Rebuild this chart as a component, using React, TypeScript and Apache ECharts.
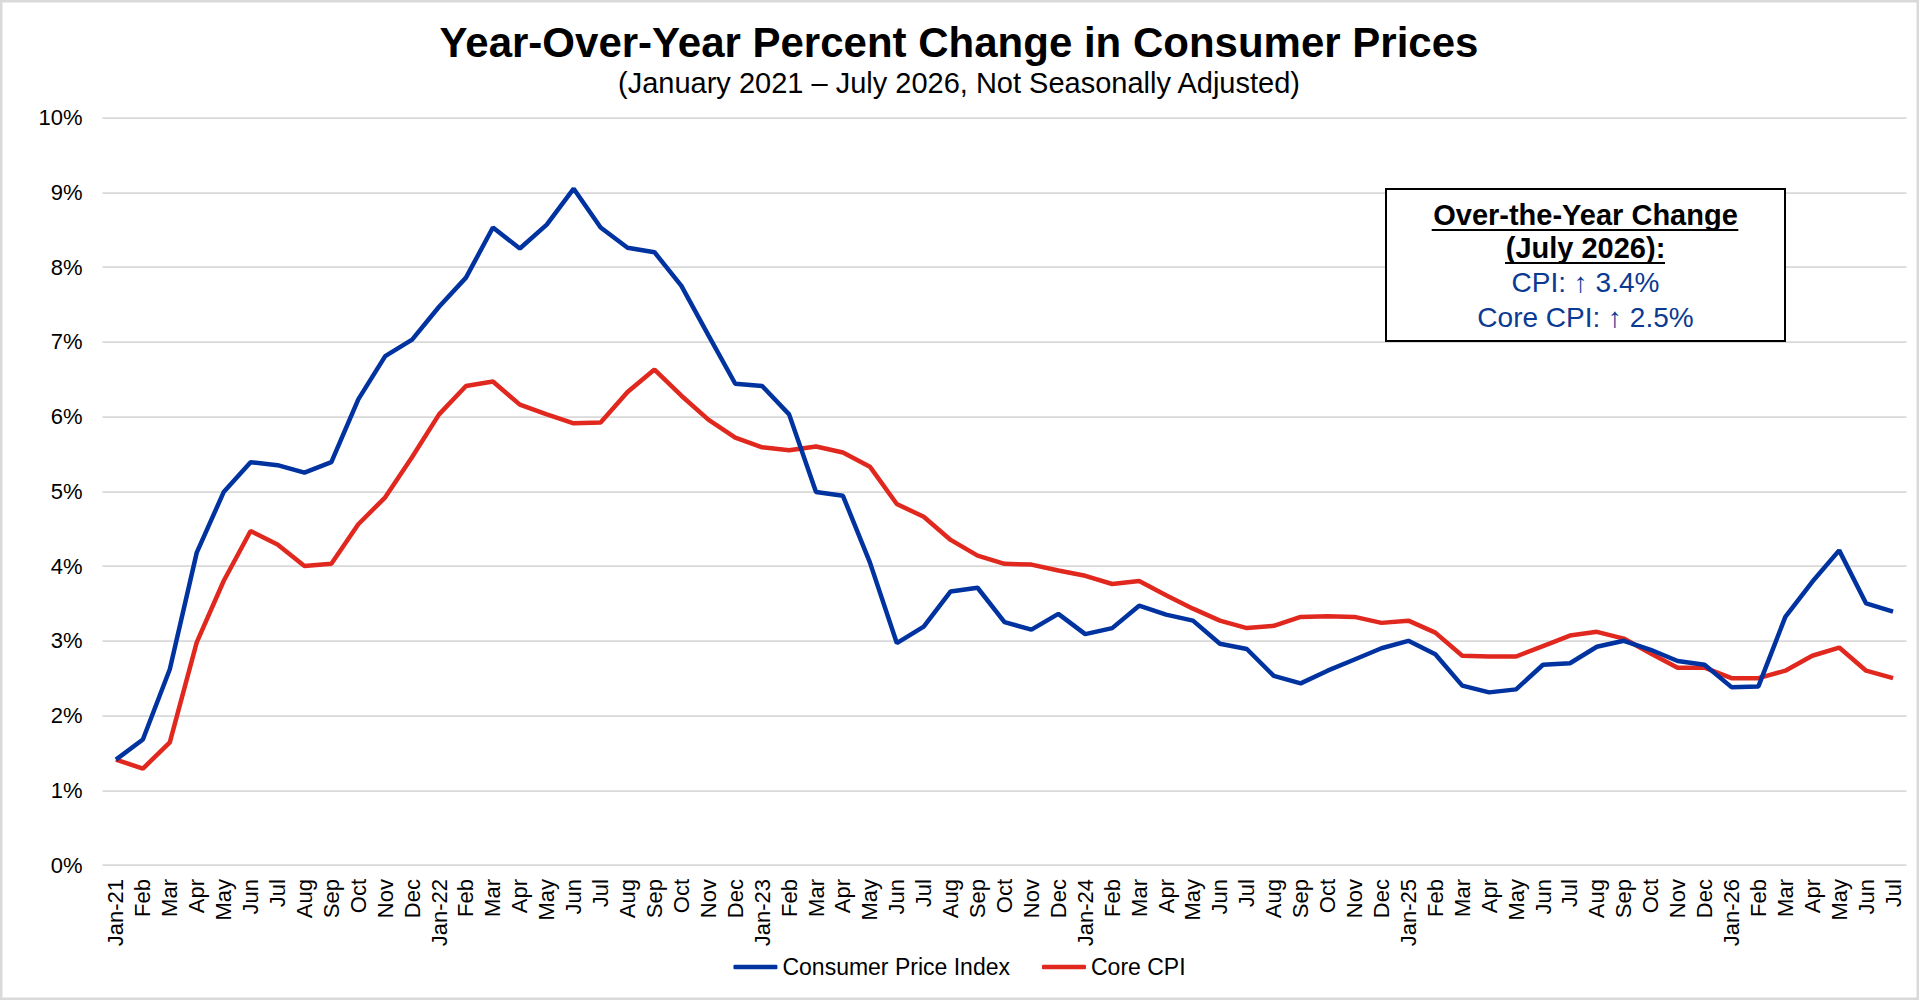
import React, { useEffect, useRef } from "react";
import * as echarts from "echarts";

const categories = [
  "Jan-21", "Feb", "Mar", "Apr", "May", "Jun", "Jul", "Aug", "Sep", "Oct", "Nov", "Dec",
  "Jan-22", "Feb", "Mar", "Apr", "May", "Jun", "Jul", "Aug", "Sep", "Oct", "Nov", "Dec",
  "Jan-23", "Feb", "Mar", "Apr", "May", "Jun", "Jul", "Aug", "Sep", "Oct", "Nov", "Dec",
  "Jan-24", "Feb", "Mar", "Apr", "May", "Jun", "Jul", "Aug", "Sep", "Oct", "Nov", "Dec",
  "Jan-25", "Feb", "Mar", "Apr", "May", "Jun", "Jul", "Aug", "Sep", "Oct", "Nov", "Dec",
  "Jan-26", "Feb", "Mar", "Apr", "May", "Jun", "Jul",
];

const cpiValues = [
  1.41, 1.68, 2.62, 4.18, 4.99, 5.39, 5.35, 5.25, 5.39, 6.23, 6.81, 7.03,
  7.47, 7.86, 8.53, 8.25, 8.57, 9.05, 8.53, 8.26, 8.2, 7.75, 7.09, 6.44,
  6.41, 6.03, 4.99, 4.94, 4.05, 2.97, 3.19, 3.66, 3.71, 3.25, 3.15, 3.36,
  3.09, 3.17, 3.47, 3.35, 3.27, 2.96, 2.89, 2.53, 2.43, 2.6, 2.75, 2.9,
  3.0, 2.82, 2.4, 2.31, 2.35, 2.68, 2.7, 2.92, 3.0, 2.88, 2.73, 2.68,
  2.38, 2.39, 3.32, 3.79, 4.21, 3.5, 3.39,
];

const coreValues = [
  1.41, 1.29, 1.64, 2.98, 3.8, 4.47, 4.29, 4.0, 4.03, 4.56, 4.92, 5.46,
  6.03, 6.41, 6.47, 6.16, 6.03, 5.91, 5.92, 6.33, 6.63, 6.28, 5.96, 5.72,
  5.59, 5.55, 5.6, 5.52, 5.33, 4.83, 4.66, 4.35, 4.14, 4.03, 4.02, 3.94,
  3.87, 3.76, 3.8, 3.61, 3.43, 3.27, 3.17, 3.2, 3.32, 3.33, 3.32, 3.24,
  3.27, 3.11, 2.8, 2.79, 2.79, 2.93, 3.07, 3.12, 3.03, 2.83, 2.64, 2.64,
  2.5, 2.5, 2.6, 2.8, 2.91, 2.6, 2.5,
];

const seriesNames = ["Consumer Price Index", "Core CPI"];
const titleText = "Year-Over-Year Percent Change in Consumer Prices";
const subtitleText = "(January 2021 \u2013 July 2026, Not Seasonally Adjusted)";
const boxLines = [
  "Over-the-Year Change",
  "(July 2026):",
  "CPI: \u2191 3.4%",
  "Core CPI: \u2191 2.5%",
];

const FONT = "'Liberation Sans', Arial, Helvetica, sans-serif";
const BLUE = "#0033a0";
const RED = "#e0281e";
const GRID = "#d9d9d9";
const BOX_BLUE = "#0b3a93";

export default function App() {
  const ref = useRef<HTMLDivElement>(null);

  useEffect(() => {
    document.body.style.margin = "0";
    if (!ref.current) return;
    const chart = echarts.init(ref.current, undefined, { renderer: "svg" });

    const boxCx = 1585.5;
    const option = {
      animation: false,
      backgroundColor: "#ffffff",
      grid: { left: 102.5, right: 12.5, top: 117.7, bottom: 135, containLabel: false },
      xAxis: {
        type: "category",
        data: categories,
        boundaryGap: true,
        axisLine: { show: false },
        axisTick: { show: false },
        splitLine: { show: false },
        axisLabel: {
          interval: 0,
          rotate: 90,
          margin: 14,
          fontSize: 22,
          color: "#000000",
          fontFamily: FONT,
        },
      },
      yAxis: {
        type: "value",
        min: 0,
        max: 10,
        interval: 1,
        axisLine: { show: false },
        axisTick: { show: false },
        splitLine: { show: true, lineStyle: { color: GRID, width: 1.75 } },
        axisLabel: {
          formatter: "{value}%",
          margin: 20,
          fontSize: 22,
          color: "#000000",
          fontFamily: FONT,
        },
      },
      legend: {
        data: seriesNames.map((n) => ({ name: n, icon: "roundRect" })),
        left: "center",
        top: 950.5,
        itemWidth: 44,
        itemHeight: 4.5,
        itemGap: 32,
        textStyle: { fontSize: 23, color: "#000000", fontFamily: FONT },
      },
      series: [
        {
          name: seriesNames[0],
          type: "line",
          data: cpiValues,
          symbol: "none",
          showSymbol: false,
          lineStyle: { color: BLUE, width: 4.5 },
          itemStyle: { color: BLUE },
          z: 3,
        },
        {
          name: seriesNames[1],
          type: "line",
          data: coreValues,
          symbol: "none",
          showSymbol: false,
          lineStyle: { color: RED, width: 4.5 },
          itemStyle: { color: RED },
          z: 2,
        },
      ],
      graphic: [
        {
          type: "rect",
          shape: { x: 1.25, y: 1.25, width: 1916.5, height: 997.5 },
          style: { fill: "none", stroke: GRID, lineWidth: 2.5 },
          silent: true,
          z: 100,
        },
        {
          type: "text",
          x: 959,
          y: 42,
          style: {
            text: titleText,
            fontSize: 42,
            fontWeight: "bold",
            fontFamily: FONT,
            fill: "#000000",
            textAlign: "center",
            textVerticalAlign: "middle",
          },
        },
        {
          type: "text",
          x: 959,
          y: 83,
          style: {
            text: subtitleText,
            fontSize: 29,
            fontFamily: FONT,
            fill: "#000000",
            textAlign: "center",
            textVerticalAlign: "middle",
          },
        },
        {
          type: "rect",
          shape: { x: 1386, y: 189, width: 399, height: 152 },
          style: { fill: "#ffffff", stroke: "#000000", lineWidth: 2 },
          z: 50,
        },
        {
          type: "text",
          x: boxCx,
          y: 215,
          z: 51,
          style: {
            text: boxLines[0],
            fontSize: 29,
            fontWeight: "bold",
            fontFamily: FONT,
            fill: "#000000",
            textAlign: "center",
            textVerticalAlign: "middle",
          },
        },
        {
          type: "line",
          z: 51,
          shape: { x1: 1431.7, y1: 230, x2: 1738.3, y2: 230 },
          style: { stroke: "#000000", lineWidth: 2 },
        },
        {
          type: "text",
          x: boxCx,
          y: 248,
          z: 51,
          style: {
            text: boxLines[1],
            fontSize: 29,
            fontWeight: "bold",
            fontFamily: FONT,
            fill: "#000000",
            textAlign: "center",
            textVerticalAlign: "middle",
          },
        },
        {
          type: "line",
          z: 51,
          shape: { x1: 1505, y1: 263, x2: 1665, y2: 263 },
          style: { stroke: "#000000", lineWidth: 2 },
        },
        {
          type: "text",
          x: boxCx,
          y: 282,
          z: 51,
          style: {
            text: boxLines[2],
            fontSize: 28,
            fontFamily: FONT,
            fill: BOX_BLUE,
            textAlign: "center",
            textVerticalAlign: "middle",
          },
        },
        {
          type: "text",
          x: boxCx,
          y: 317,
          z: 51,
          style: {
            text: boxLines[3],
            fontSize: 28,
            fontFamily: FONT,
            fill: BOX_BLUE,
            textAlign: "center",
            textVerticalAlign: "middle",
          },
        },
      ],
    };

    chart.setOption(option as any);
    return () => {
      chart.dispose();
    };
  }, []);

  return (
    <div
      ref={ref}
      style={{ position: "fixed", left: 0, top: 0, width: 1919, height: 1000, background: "#fff" }}
    />
  );
}
